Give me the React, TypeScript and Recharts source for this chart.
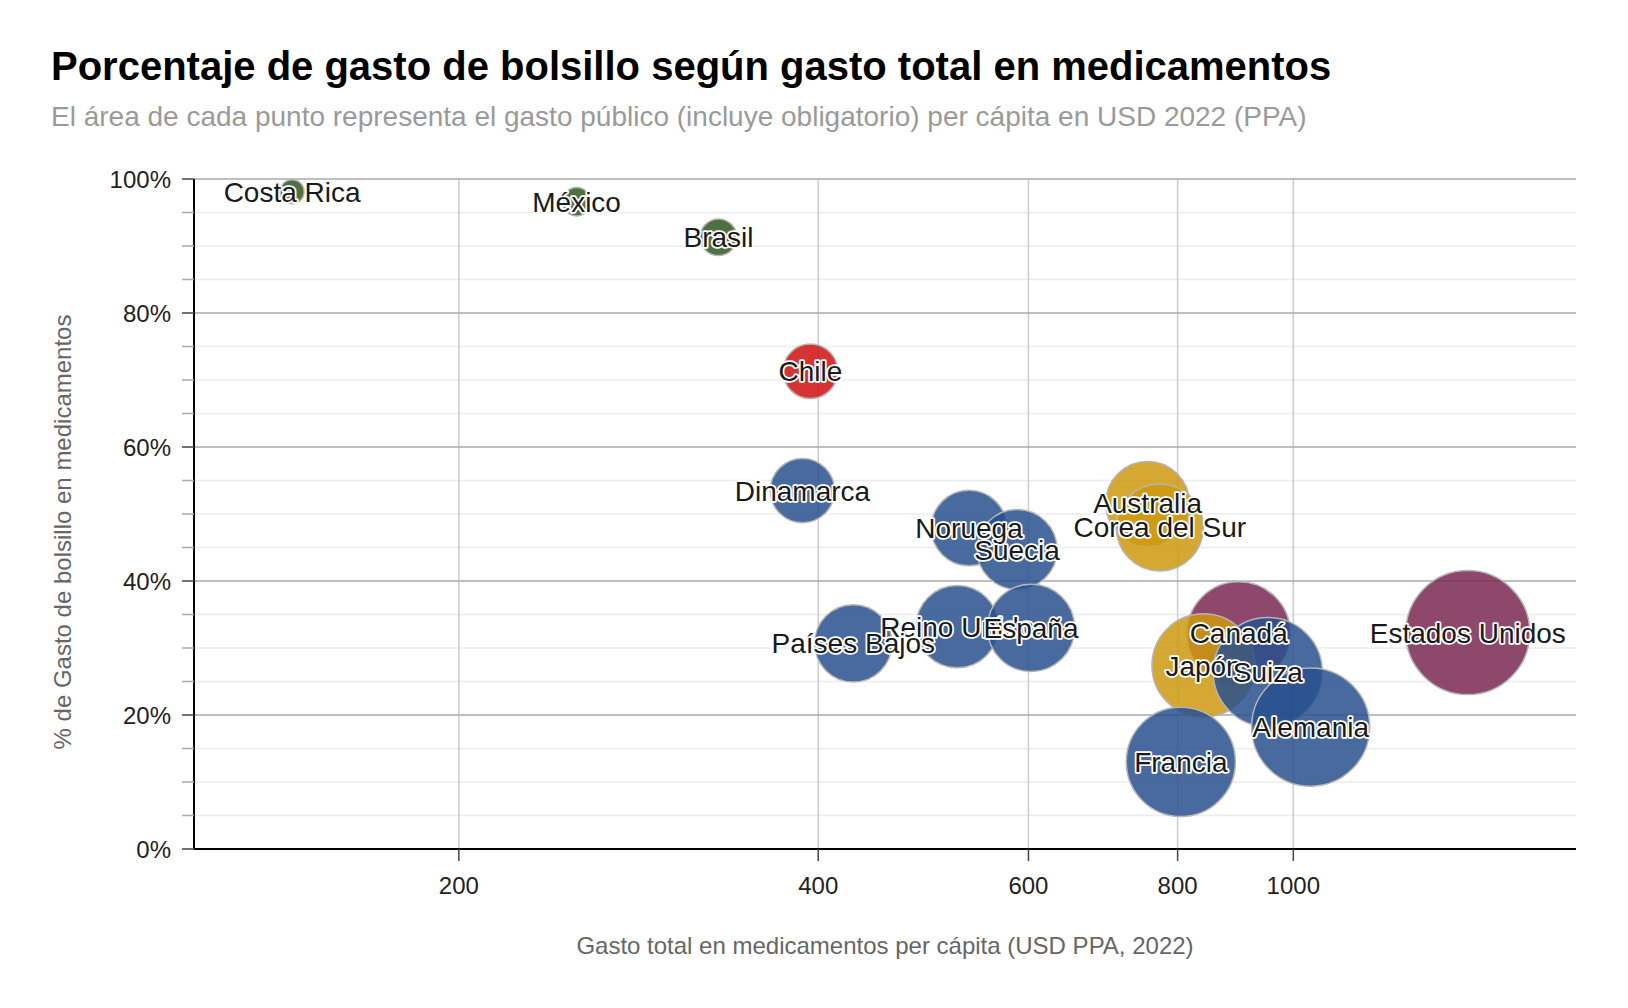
import React from "react";
import {
  ScatterChart,
  Scatter,
  XAxis,
  YAxis,
  CartesianGrid,
  LabelList,
} from "recharts";

// países ordenados por % de gasto de bolsillo (de mayor a menor)
const countries = [
  "Costa Rica",
  "México",
  "Brasil",
  "Chile",
  "Dinamarca",
  "Australia",
  "Noruega",
  "Corea del Sur",
  "Suecia",
  "Reino Unido",
  "España",
  "Estados Unidos",
  "Canadá",
  "Países Bajos",
  "Japón",
  "Suiza",
  "Alemania",
  "Francia",
];
const totalSpend = [145, 251, 330, 394, 388, 755, 535, 773, 587, 523, 603, 1400, 900, 428, 841, 952, 1034, 805];
const oopShare = [98.1, 96.6, 91.3, 71.3, 53.5, 51.6, 47.9, 48.0, 44.7, 33.2, 33.0, 32.3, 32.2, 30.7, 27.4, 26.4, 18.2, 13.0];
const publicSpend = [3, 9, 29, 113, 180, 365, 279, 402, 325, 349, 404, 948, 610, 297, 611, 701, 846, 700];
const regions = [
  "latam", "latam", "latam", "chile", "europa", "asia", "europa", "asia", "europa",
  "europa", "europa", "norte", "norte", "europa", "asia", "europa", "europa", "europa",
];

const xTicks = [200, 400, 600, 800, 1000];
const yTicks = [0, 5, 10, 15, 20, 25, 30, 35, 40, 45, 50, 55, 60, 65, 70, 75, 80, 85, 90, 95, 100];
const yMajor = [0, 20, 40, 60, 80, 100];
const yMinor = [5, 10, 15, 25, 30, 35, 45, 50, 55, 65, 70, 75, 85, 90, 95];

const regionColors: Record<string, string> = {
  latam: "#2f5721",
  chile: "#cf1010",
  europa: "#28508e",
  asia: "#cd990e",
  norte: "#7a2852",
};

const data = countries.map((name, i) => ({
  name,
  total: totalSpend[i],
  oop: oopShare[i],
  pub: publicSpend[i],
  region: regions[i],
}));

const FONT = "'Liberation Sans', Arial, Helvetica, sans-serif";

// radio de la burbuja según el gasto público
const R_MIN = 12;
const R_MAX = 62;
const zMin = Math.sqrt(Math.min(...publicSpend));
const zMax = Math.sqrt(Math.max(...publicSpend));
const radiusOf = (v: number) =>
  R_MIN + ((R_MAX - R_MIN) * (Math.sqrt(v) - zMin)) / (zMax - zMin);

const Bubble = (props: any) => {
  const { cx, cy, payload } = props;
  return (
    <circle
      cx={cx}
      cy={cy}
      r={radiusOf(payload.pub)}
      fill={regionColors[payload.region]}
      fillOpacity={0.85}
      stroke="#b4b4b4"
      strokeWidth={1.5}
    />
  );
};

const BubbleLabel = (props: any) => {
  const { x, y, width, height, value } = props;
  const cx = x + (width || 0) / 2;
  const cy = y + (height || 0) / 2;
  return (
    <text
      x={cx}
      y={cy}
      dy="0.36em"
      textAnchor="middle"
      fontFamily={FONT}
      fontSize={28}
      fill="#1a1a1a"
      stroke="#ffffff"
      strokeWidth={3.5}
      strokeLinejoin="round"
      paintOrder="stroke"
    >
      {value}
    </text>
  );
};

const YTick = (props: any) => {
  const { x, y, payload } = props;
  const v = payload.value;
  const major = yMajor.includes(v);
  return (
    <g>
      <line
        x1={x + 11}
        x2={x + 23}
        y1={y}
        y2={y}
        stroke={major ? "#444" : "#aaa"}
        strokeWidth={1.5}
      />
      {major && (
        <text
          x={x}
          y={y}
          dy="0.36em"
          textAnchor="end"
          fontFamily={FONT}
          fontSize={24}
          fill="#222"
        >
          {`${v}%`}
        </text>
      )}
    </g>
  );
};

export default function App() {
  return (
    <div style={{ position: "relative", width: 1600, height: 990, fontFamily: FONT }}>
      <div
        style={{
          position: "absolute",
          left: 43,
          top: 38,
          fontSize: 40,
          lineHeight: 1,
          fontWeight: 700,
          color: "#000",
          whiteSpace: "nowrap",
        }}
      >
        Porcentaje de gasto de bolsillo según gasto total en medicamentos
      </div>
      <div
        style={{
          position: "absolute",
          left: 43,
          top: 95,
          fontSize: 28,
          lineHeight: 1,
          color: "#9a9a9a",
          whiteSpace: "nowrap",
        }}
      >
        El área de cada punto representa el gasto público (incluye obligatorio) per cápita en USD 2022 (PPA)
      </div>
      <ScatterChart
        width={1600}
        height={990}
        margin={{ top: 171, right: 32, bottom: 89, left: 0 }}
      >
        <CartesianGrid
          horizontalValues={yMinor}
          vertical={false}
          stroke="#ececec"
          strokeWidth={1.5}
        />
        <CartesianGrid
          verticalValues={xTicks}
          horizontal={false}
          stroke="#cccccc"
          strokeWidth={1.5}
        />
        <CartesianGrid
          horizontalValues={yMajor}
          vertical={false}
          stroke="#aaaaaa"
          strokeWidth={1.5}
        />
        <XAxis
          type="number"
          dataKey="total"
          scale="log"
          domain={[120, 1725]}
          allowDataOverflow
          ticks={xTicks}
          interval={0}
          height={60}
          tickSize={12}
          tickMargin={16}
          axisLine={{ stroke: "#000", strokeWidth: 2 }}
          tickLine={{ stroke: "#444", strokeWidth: 1.5 }}
          tick={{ fontSize: 24, fill: "#222", fontFamily: FONT }}
          label={{
            content: (p: any) => {
              const vb = p.viewBox || { x: 186, y: 841, width: 1382 };
              return (
                <text
                  x={vb.x + vb.width / 2}
                  y={vb.y + 105}
                  textAnchor="middle"
                  fontFamily={FONT}
                  fontSize={24}
                  fill="#666"
                >
                  Gasto total en medicamentos per cápita (USD PPA, 2022)
                </text>
              );
            },
          }}
        />
        <YAxis
          type="number"
          dataKey="oop"
          domain={[0, 100]}
          ticks={yTicks}
          interval={0}
          width={186}
          tickSize={12}
          tickMargin={11}
          tickLine={false}
          axisLine={{ stroke: "#000", strokeWidth: 2 }}
          tick={<YTick />}
          label={{
            content: (p: any) => {
              const vb = p.viewBox || { x: 0, y: 171, height: 670 };
              const lx = vb.x + 54;
              const ly = vb.y + vb.height / 2 + 18;
              return (
                <text
                  x={lx}
                  y={ly}
                  transform={`rotate(-90, ${lx}, ${ly})`}
                  textAnchor="middle"
                  dy="0.36em"
                  fontFamily={FONT}
                  fontSize={24}
                  fill="#666"
                >
                  % de Gasto de bolsillo en medicamentos
                </text>
              );
            },
          }}
        />
        <Scatter data={data} shape={<Bubble />} isAnimationActive={false}>
          <LabelList dataKey="name" content={<BubbleLabel />} />
        </Scatter>
      </ScatterChart>
    </div>
  );
}
